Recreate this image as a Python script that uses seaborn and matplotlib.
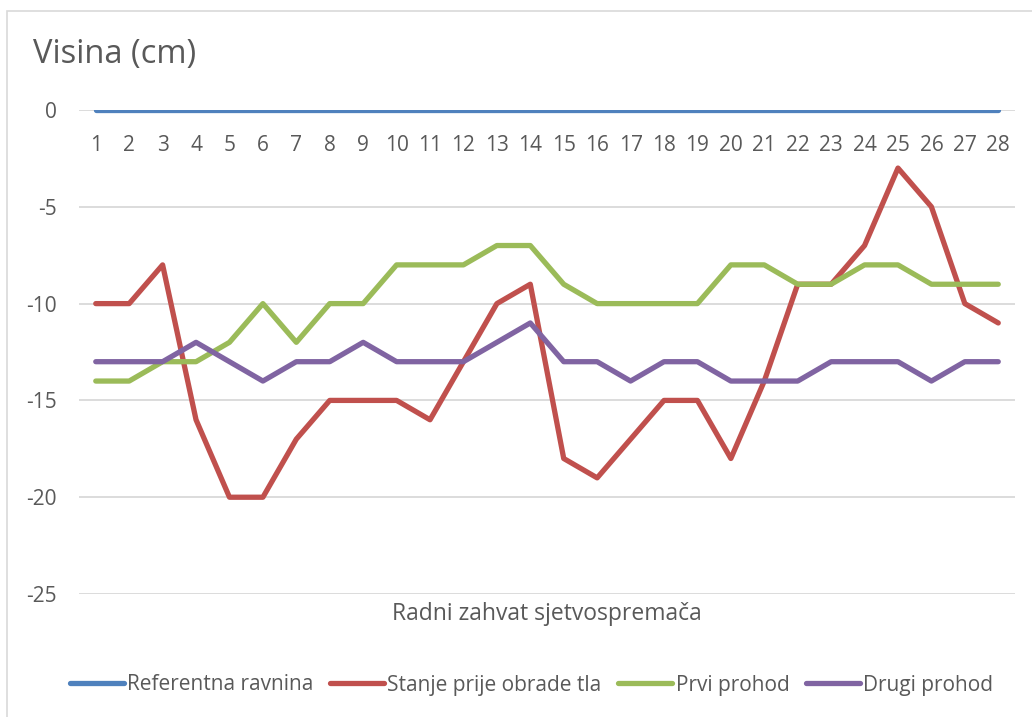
import matplotlib
matplotlib.use("Agg")
import matplotlib.pyplot as plt
import matplotlib.patches as mpatches
import seaborn as sns
import pandas as pd

# ── Data ──────────────────────────────────────────────────────────────────────
positions = list(range(1, 29))
referentna = [0] * 28
stanje = [-10, -10, -8, -16, -20, -20, -17, -15, -15, -15, -16, -13, -10, -9,
          -18, -19, -17, -15, -15, -18, -14, -9, -9, -7, -3, -5, -10, -11]
prvi = [-14, -14, -13, -13, -12, -10, -12, -10, -10, -8, -8, -8, -7, -7,
        -9, -10, -10, -10, -10, -8, -8, -9, -9, -8, -8, -9, -9, -9]
drugi = [-13, -13, -13, -12, -13, -14, -13, -13, -12, -13, -13, -13, -12, -11,
         -13, -13, -14, -13, -13, -14, -14, -14, -13, -13, -13, -14, -13, -13]
series_names = ["Referentna ravnina", "Stanje prije obrade tla", "Prvi prohod", "Drugi prohod"]
y_ticks = [0, -5, -10, -15, -20, -25]

COLORS = ["#4F81BD", "#C0504D", "#9BBB59", "#8064A2"]
TEXT = "#595959"

df = pd.concat([
    pd.DataFrame({"pos": positions, "val": vals, "series": name})
    for name, vals in zip(series_names, [referentna, stanje, prvi, drugi])
])

sns.set_theme(style="white")
plt.rcParams["font.family"] = ["Open Sans", "DejaVu Sans"]

fig = plt.figure(figsize=(10.32, 7.17), dpi=100)
ax = fig.add_axes([0.0766, 0.1715, 0.9069, 0.6751])

# outer chart frame (cut off at right and bottom as in the source)
fig.patches.append(mpatches.Rectangle((7 / 1032, -0.1), 1.2, 1 - 11 / 717 + 0.1,
                                      transform=fig.transFigure, fill=False,
                                      edgecolor="#D9D9D9", linewidth=1.2))

for yv in y_ticks:
    ax.axhline(yv, color="#D9D9D9", linewidth=1.3, zorder=0)

sns.lineplot(data=df, x="pos", y="val", hue="series", hue_order=series_names,
             palette=COLORS, linewidth=3.8, ax=ax, legend=False,
             solid_capstyle="round", solid_joinstyle="round")

ax.set_xlim(0.5, 28.5)
ax.set_ylim(-25, 0)
ax.set_yticks(y_ticks)
ax.set_yticklabels([str(v) for v in y_ticks])
ax.set_xticks(positions)
ax.set_xticklabels([str(p) for p in positions])
for s in ax.spines.values():
    s.set_visible(False)

ax.tick_params(axis="y", length=0, pad=16, labelsize=15, labelcolor=TEXT)
ax.tick_params(axis="x", length=0, top=True, bottom=False, labeltop=True,
               labelbottom=False, pad=-33, labelsize=15, labelcolor=TEXT)
ax.set_xlabel("")
ax.set_ylabel("")

fig.text(33 / 1032, 1 - 55 / 717, "Visina (cm)", fontsize=23.5, color=TEXT,
         ha="left", va="center")
fig.text(547 / 1032, 1 - 614 / 717, "Radni zahvat sjetvospremača", fontsize=16.5,
         color=TEXT, ha="center", va="center")

handles = [plt.Line2D([], [], color=c, linewidth=3.8, solid_capstyle="round")
           for c in COLORS]
fig.legend(handles, series_names, loc="center", bbox_to_anchor=(0.515, 1 - 685 / 717),
           ncol=4, frameon=False, fontsize=15, handlelength=2.6, handletextpad=0.15,
           columnspacing=0.8, labelcolor=TEXT)

fig.savefig("out.png", dpi=100)
